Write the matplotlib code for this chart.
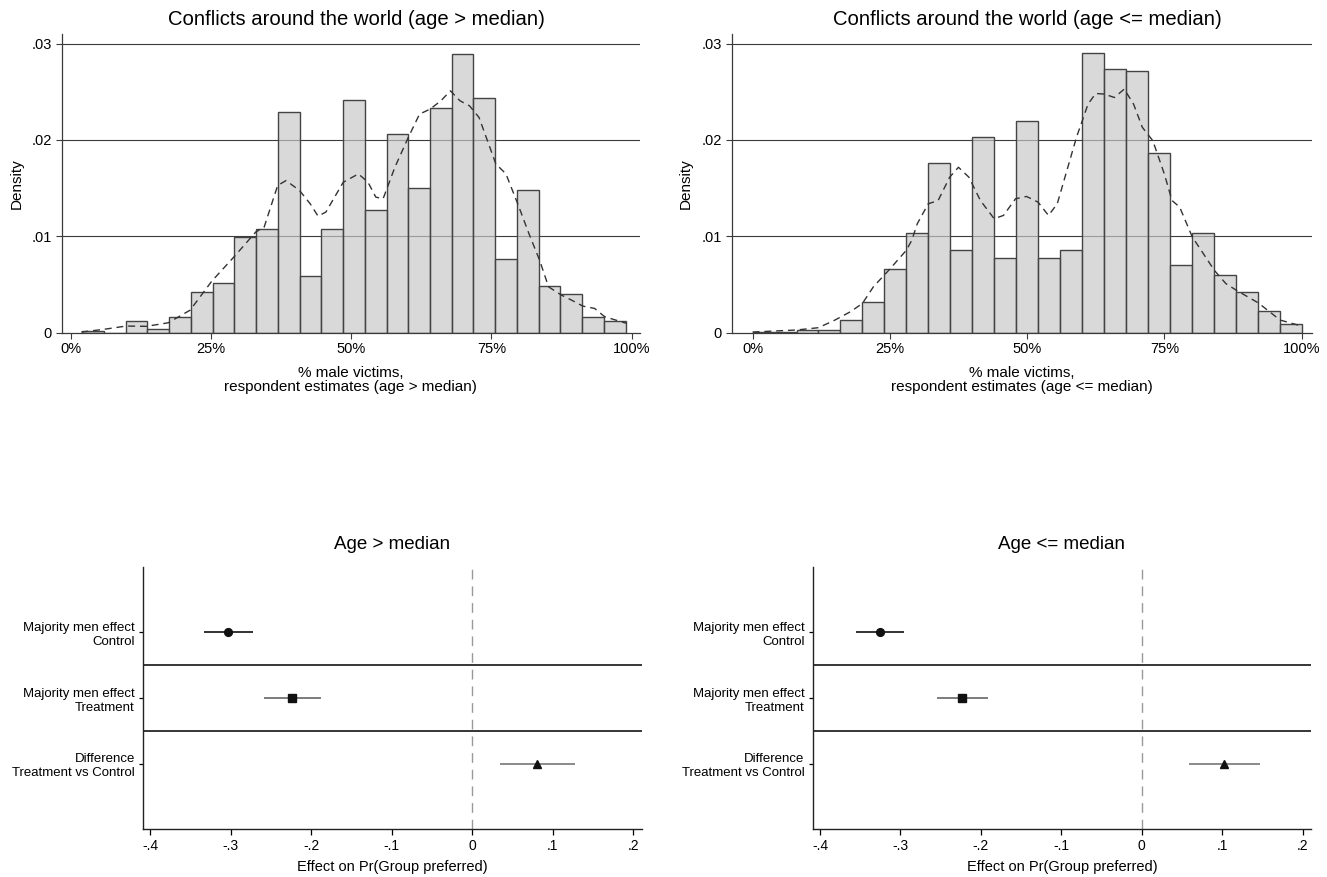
import numpy as np
import matplotlib.pyplot as plt

plt.rcParams["font.family"] = ["Liberation Sans", "DejaVu Sans"]

# histogram of respondent estimates, density per percentage point
old_start, old_width = 2.07, 3.874
old_density = [0.00014, 0.0, 0.00117, 0.00034, 0.0016, 0.0042, 0.0052, 0.0099,
               0.0108, 0.0229, 0.0059, 0.0108, 0.0242, 0.0127, 0.0206, 0.0150,
               0.0233, 0.0289, 0.0244, 0.0076, 0.0148, 0.0048, 0.0040, 0.0016,
               0.0012]
young_start, young_width = 0.0, 4.0
young_density = [0.0001, 0.0001, 0.0003, 0.0003, 0.0013, 0.0032, 0.0066, 0.0103,
                 0.0176, 0.0086, 0.0203, 0.0078, 0.0220, 0.0078, 0.0086, 0.0290,
                 0.0274, 0.0272, 0.0186, 0.0070, 0.0103, 0.0060, 0.0042, 0.0023,
                 0.0009]

# kernel density overlays
old_kde_x = [1.9, 5.8, 9.9, 13.5, 17.4, 21.3, 25.2, 29.1, 33.0, 34.5, 36.9, 38.4,
             40.8, 42.7, 44.1, 45.5, 48.6, 51.3, 53.0, 54.4, 55.7, 57.8, 60.2,
             62.2, 64.1, 66.0, 67.7, 69.4, 71.1, 72.8, 75.8, 77.6, 79.7, 81.7,
             83.6, 85.2, 87.5, 89.3, 91.3, 93.4, 95.2, 99.1]
old_kde_y = [0.00007, 0.00034, 0.00069, 0.00066, 0.00103, 0.00234, 0.00538,
             0.00786, 0.01045, 0.01097, 0.01528, 0.01579, 0.01476, 0.01338,
             0.0121, 0.01252, 0.01562, 0.01648, 0.01562, 0.01407, 0.0139,
             0.01717, 0.02028, 0.02269, 0.02321, 0.02407, 0.0251, 0.02407,
             0.02355, 0.02234, 0.01752, 0.01648, 0.01338, 0.01028, 0.00752,
             0.00476, 0.0039, 0.00338, 0.00276, 0.00252, 0.00166, 0.00097]
young_kde_x = [0.0, 8.0, 12.0, 15.0, 17.8, 20.0, 22.0, 24.8, 28.0, 29.0, 30.0,
               32.0, 33.8, 35.9, 37.5, 39.4, 41.5, 44.0, 45.7, 47.9, 49.9, 52.0,
               53.9, 55.5, 56.9, 59.0, 61.1, 62.5, 64.1, 65.9, 67.7, 69.4, 71.0,
               72.9, 75.0, 76.4, 77.8, 80.1, 81.3, 84.1, 86.2, 88.1, 92.1, 96.1,
               100.0]
young_kde_y = [0.00007, 0.00028, 0.00052, 0.00131, 0.00217, 0.00303, 0.00476,
               0.00648, 0.00855, 0.00959, 0.01131, 0.01338, 0.01372, 0.01614,
               0.01717, 0.01614, 0.01372, 0.01183, 0.01217, 0.0139, 0.01414,
               0.01355, 0.01217, 0.01338, 0.01614, 0.02028, 0.02372, 0.02483,
               0.02476, 0.02441, 0.02528, 0.02372, 0.02131, 0.01993, 0.01648,
               0.01372, 0.01303, 0.00993, 0.0089, 0.00648, 0.0051, 0.00441,
               0.0031, 0.00131, 0.00069]

# coefficient estimates with 95% CIs
effect_labels = ["Majority men effect\nControl", "Majority men effect\nTreatment",
                 "Difference\nTreatment vs Control"]
old_coef = [-0.303, -0.2238, 0.0807]
old_lo = [-0.3333, -0.2585, 0.0344]
old_hi = [-0.2728, -0.1883, 0.1272]
young_coef = [-0.3258, -0.223, 0.1021]
young_lo = [-0.355, -0.2548, 0.0587]
young_hi = [-0.296, -0.191, 0.1466]

W, H = 1327, 877
fig = plt.figure(figsize=(W / 100, H / 100), dpi=100)


def px_axes(x0, y0, x1, y1):
    return fig.add_axes([x0 / W, 1 - y1 / H, (x1 - x0) / W, (y1 - y0) / H])


def hist_panel(ax, start, width, dens, kx, ky, xlim, title, xlabel):
    edges = start + width * np.arange(len(dens))
    for yv in (0.01, 0.02, 0.03):
        ax.axhline(yv, color="#3a3a3a", lw=0.8, zorder=1)
    ax.bar(edges, dens, width=width, align="edge",
           color=(0.783, 0.783, 0.783, 0.69), edgecolor="#444444",
           linewidth=1.0, zorder=2)
    ax.plot(kx, ky, color="#333333", lw=1.0, dashes=(5, 3.5), zorder=3)
    ax.set_xlim(*xlim)
    ax.set_ylim(0, 0.031)
    ax.set_xticks([0, 25, 50, 75, 100])
    ax.set_xticklabels(["0%", "25%", "50%", "75%", "100%"])
    ax.set_yticks([0, 0.01, 0.02, 0.03])
    ax.set_yticklabels(["0", ".01", ".02", ".03"])
    ax.set_title(title, fontsize=14.6, pad=6.5, x=0.509)
    ax.set_xlabel(xlabel, fontsize=11, linespacing=1.0, labelpad=7)
    ax.set_ylabel("Density", fontsize=11, labelpad=6)
    for s in ("top", "right"):
        ax.spines[s].set_visible(False)
    for s in ("left", "bottom"):
        ax.spines[s].set_color("#3a3a3a")
        ax.spines[s].set_linewidth(0.9)
    ax.tick_params(labelsize=10.5, length=4, width=0.8, color="#3a3a3a", pad=3)


def coef_panel(ax, coef, lo, hi, title):
    ax.axvline(0, color="#999999", lw=1.0, dashes=(7, 5), zorder=1)
    for yv in (1.5, 2.5):
        ax.axhline(yv, color="black", lw=1.1, zorder=1)
    rows = np.arange(1, len(coef) + 1)
    ci_colors = ["#111111", "#666666", "#777777"]
    markers = ["o", "s", "^"]
    for r, c, l, h, cc, m in zip(rows, coef, lo, hi, ci_colors, markers):
        ax.hlines(r, l, h, color=cc, lw=1.2, zorder=2)
        ax.plot(c, r, marker=m, color="#111111", markersize=5.6, ls="none",
                zorder=3)
    ax.set_ylim(4, 0)
    ax.set_xlim(-0.4087, 0.2104)
    ax.set_yticks(rows)
    ax.set_yticklabels(effect_labels, linespacing=1.25, ha="right")
    ax.set_xticks([-0.4, -0.3, -0.2, -0.1, 0, 0.1, 0.2])
    ax.set_xticklabels(["-.4", "-.3", "-.2", "-.1", "0", ".1", ".2"])
    ax.set_title(title, fontsize=13.5, pad=13)
    ax.set_xlabel("Effect on Pr(Group preferred)", fontsize=10.5, labelpad=5)
    for s in ("top", "right"):
        ax.spines[s].set_visible(False)
    for s in ("left", "bottom"):
        ax.spines[s].set_color("#222222")
        ax.spines[s].set_linewidth(1.0)
    ax.tick_params(axis="x", labelsize=10, length=4, width=0.9, pad=3)
    ax.tick_params(axis="y", labelsize=9.5, length=3, width=0.9, pad=3)


ax1 = px_axes(61.7, 34, 640, 332.7)
hist_panel(ax1, old_start, old_width, old_density, old_kde_x, old_kde_y,
           (-1.6, 101.5), "Conflicts around the world (age > median)",
           "% male victims,\nrespondent estimates (age > median)")

ax2 = px_axes(731.5, 34, 1312, 332.7)
hist_panel(ax2, young_start, young_width, young_density, young_kde_x, young_kde_y,
           (-3.84, 101.9), "Conflicts around the world (age <= median)",
           "% male victims,\nrespondent estimates (age <= median)")

ax3 = px_axes(143.3, 566.7, 641.7, 829.3)
coef_panel(ax3, old_coef, old_lo, old_hi, "Age > median")

ax4 = px_axes(813, 566.7, 1311, 829.3)
coef_panel(ax4, young_coef, young_lo, young_hi, "Age <= median")

fig.savefig("out.png", dpi=100)
